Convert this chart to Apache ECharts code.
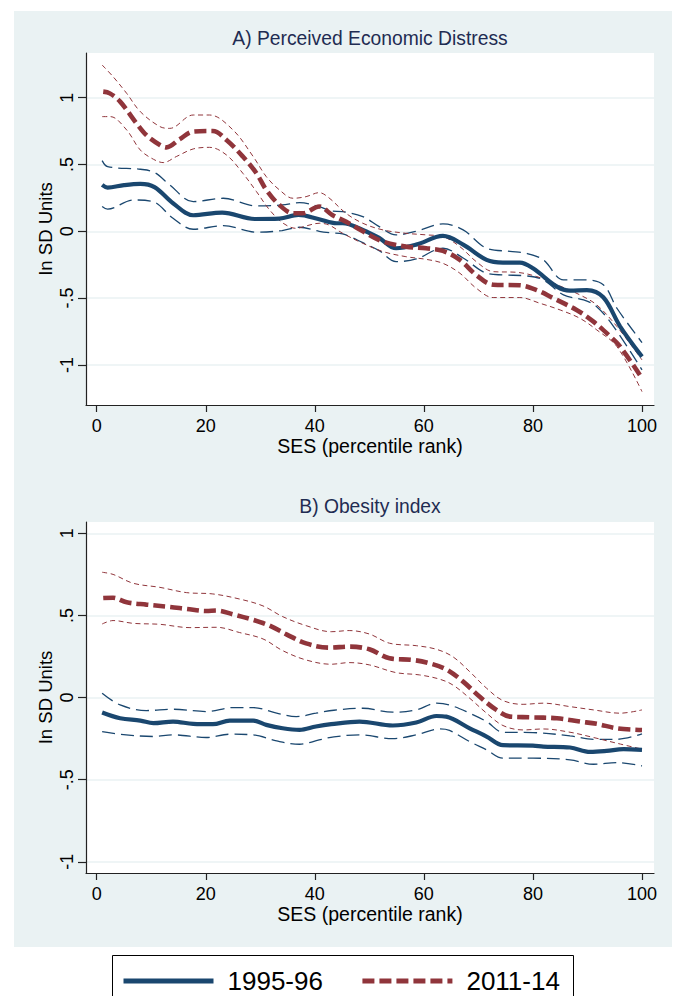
<!DOCTYPE html>
<html>
<head>
<meta charset="utf-8">
<script src="https://cdn.jsdelivr.net/npm/echarts@6/dist/echarts.min.js"></script>
<style>
html,body{margin:0;padding:0;background:#fff;}
#c{width:678px;height:996px;}
</style>
</head>
<body>
<div id="c"></div>
<script>
// ---- Data (x = SES percentile rank, y = SD units) ----
const xTicks = [0, 20, 40, 60, 80, 100];
const yTicks = [-1, -0.5, 0, 0.5, 1];
const legendNames = ['1995-96', '2011-14'];

// Panel A: Perceived Economic Distress
const distress9596 = [[1,0.347],[2,0.327],[5,0.345],[8,0.354],[10.6,0.33],[14,0.21],[17.7,0.12],[23,0.14],[29,0.092],[33.5,0.095],[37,0.122],[40.8,0.09],[44,0.06],[45.1,0.06],[48.8,0.01],[51.8,-0.05],[54.9,-0.127],[58.6,-0.10],[63.5,-0.035],[67.2,-0.10],[71.5,-0.214],[74.5,-0.234],[77.6,-0.234],[80,-0.277],[84.4,-0.414],[86.8,-0.444],[89.9,-0.44],[92.9,-0.494],[96,-0.713],[100,-0.938]];
const distress9596Hi = [[1,0.529],[2,0.484],[8,0.464],[10.6,0.44],[13.4,0.347],[17.7,0.222],[23.2,0.247],[29.3,0.19],[34,0.197],[37.2,0.214],[40.8,0.185],[43,0.152],[45.1,0.147],[48.8,0.11],[51.8,0.035],[54.9,-0.027],[58.6,0],[63.5,0.055],[67.2,0.01],[71.5,-0.127],[75.8,-0.15],[78.8,-0.165],[81.9,-0.214],[85.6,-0.364],[89.3,-0.364],[92.9,-0.40],[95.4,-0.576],[100,-0.833]];
const distress9596Lo = [[1,0.185],[2,0.165],[6.7,0.234],[10.3,0.222],[14,0.097],[17.7,0.015],[23.2,0.042],[29.3,-0.007],[34,0.005],[37.2,0.03],[40.8,0.0],[43,-0.012],[45.1,-0.02],[48.8,-0.085],[51.8,-0.145],[54.9,-0.227],[58.6,-0.207],[63.5,-0.127],[67.2,-0.2],[71.5,-0.314],[74.5,-0.327],[78.8,-0.334],[81.9,-0.364],[85.6,-0.476],[89.3,-0.514],[91.7,-0.564],[94.8,-0.713],[100,-1.037]];
const distress1114 = [[1.2,1.045],[2.4,1.032],[4.3,0.97],[7.3,0.808],[9.1,0.72],[11.6,0.646],[12.8,0.628],[15.2,0.688],[17.7,0.746],[21.3,0.75],[23.8,0.683],[26.8,0.559],[29.3,0.434],[31.1,0.31],[33.5,0.197],[36,0.135],[37.8,0.135],[40.8,0.185],[43.2,0.122],[45.7,0.072],[48.8,0],[52.5,-0.077],[56.7,-0.115],[60.4,-0.127],[63.5,-0.147],[66.6,-0.214],[69.6,-0.327],[72.7,-0.40],[77.6,-0.404],[80.7,-0.44],[83.7,-0.50],[88,-0.589],[91.1,-0.676],[94.2,-0.788],[96,-0.863],[100,-1.1]];
const distress1114Hi = [[1,1.244],[3,1.157],[5.5,1.032],[8,0.895],[11.6,0.783],[13.4,0.77],[17.7,0.87],[20.7,0.87],[25,0.758],[28.7,0.559],[31.1,0.409],[33.5,0.31],[36,0.247],[38.4,0.259],[40.8,0.289],[42.6,0.25],[45.7,0.135],[48.8,0.06],[52.5,0.01],[56.7,-0.015],[60.4,-0.027],[63.5,-0.04],[66.6,-0.115],[69.6,-0.227],[72.7,-0.302],[77,-0.307],[80.7,-0.339],[84.4,-0.40],[88.6,-0.476],[91.7,-0.551],[95.4,-0.713],[100,-0.963]];
const distress1114Lo = [[1,0.858],[2.5,0.858],[5.5,0.758],[8,0.608],[10.4,0.539],[12.2,0.514],[14.6,0.559],[17.7,0.616],[20.7,0.628],[23.8,0.571],[26.8,0.434],[29.3,0.297],[31.7,0.16],[34.2,0.06],[36.6,0.022],[38.4,0.04],[40.8,0.06],[42.6,0.047],[45.1,-0.015],[48.8,-0.09],[52.5,-0.152],[56.7,-0.19],[60.4,-0.21],[63.5,-0.24],[66.6,-0.314],[69.6,-0.426],[72.7,-0.496],[77.6,-0.496],[81.3,-0.539],[85,-0.589],[88.6,-0.651],[91.7,-0.738],[95.4,-0.863],[100,-1.2]];

// Panel B: Obesity index
const obesity9596 = [[1,-0.091],[4.3,-0.126],[8,-0.14],[10.4,-0.156],[14,-0.146],[17.7,-0.16],[21.3,-0.162],[24.4,-0.14],[28.7,-0.14],[31.1,-0.166],[34.1,-0.187],[37.2,-0.197],[40.2,-0.176],[43,-0.162],[48.2,-0.146],[54.3,-0.17],[58.6,-0.152],[62.3,-0.112],[64.1,-0.116],[68.4,-0.187],[71.5,-0.237],[74.5,-0.29],[80,-0.292],[81.9,-0.298],[86.8,-0.304],[90.5,-0.331],[93.5,-0.325],[96.6,-0.314],[100,-0.318]];
const obesity9596Hi = [[1,0.026],[4.3,-0.045],[9.1,-0.079],[14,-0.071],[20.1,-0.085],[25,-0.061],[28.7,-0.061],[33,-0.095],[36.6,-0.116],[40.2,-0.095],[43.5,-0.077],[48.8,-0.065],[54.3,-0.089],[58.6,-0.075],[62.3,-0.034],[64.7,-0.045],[68.4,-0.095],[71.5,-0.146],[74.5,-0.211],[80,-0.213],[86.8,-0.233],[91.1,-0.254],[95.4,-0.254],[100,-0.221]];
const obesity9596Lo = [[1,-0.207],[4.3,-0.223],[10.4,-0.237],[14,-0.227],[20.1,-0.243],[24.4,-0.223],[28.7,-0.227],[33,-0.264],[37.2,-0.284],[40.8,-0.258],[43.5,-0.239],[48.2,-0.227],[54.3,-0.25],[58.6,-0.227],[62.9,-0.191],[64.7,-0.2],[68.4,-0.268],[71.5,-0.318],[74.5,-0.369],[80,-0.369],[86.8,-0.379],[91.1,-0.406],[95.4,-0.396],[100,-0.416]];
const obesity1114 = [[1.2,0.606],[3,0.608],[5.5,0.58],[9.1,0.566],[13.4,0.552],[16.5,0.54],[20.1,0.527],[22,0.53],[25,0.507],[28.7,0.473],[31.7,0.438],[34.8,0.385],[38.4,0.33],[42.7,0.304],[46.3,0.31],[50,0.294],[53.7,0.239],[58,0.229],[61,0.209],[64.1,0.172],[67.2,0.097],[70.2,0.006],[73.3,-0.075],[75.8,-0.116],[79.4,-0.12],[84.4,-0.126],[88.6,-0.146],[91.7,-0.16],[95.4,-0.187],[100,-0.197]];
const obesity1114Hi = [[1,0.763],[3,0.75],[6.7,0.696],[11.6,0.671],[16.5,0.639],[21.3,0.631],[26.2,0.6],[30.5,0.558],[34.1,0.493],[38.4,0.438],[43,0.401],[46.3,0.408],[50,0.387],[53.7,0.331],[58.6,0.316],[62.3,0.294],[65.3,0.249],[68.4,0.158],[71.5,0.057],[74.5,-0.018],[78.2,-0.041],[81.9,-0.034],[86.8,-0.055],[91.1,-0.075],[96,-0.095],[100,-0.075]];
const obesity1114Lo = [[1,0.448],[3,0.469],[6.7,0.452],[11.6,0.446],[17.1,0.426],[22,0.428],[26.2,0.396],[30.5,0.357],[34.1,0.286],[38.4,0.229],[43,0.203],[46.3,0.213],[50,0.199],[54.9,0.152],[59.2,0.138],[62.9,0.112],[65.3,0.077],[68.4,-0.004],[71.5,-0.095],[74.5,-0.17],[78.2,-0.197],[81.9,-0.191],[86.8,-0.211],[91.1,-0.243],[95.4,-0.278],[100,-0.314]];

// ---- Styles ----
const NAVY = '#1a476f';
const MAROON = '#90353b';
const BG = '#eaf2f3';
const FONT = 'Liberation Sans, Arial, Helvetica, sans-serif';

function yFmt(v) {
  if (Math.abs(v) < 1e-9) return '0';
  return String(v).replace('0.', '.');
}

function makeX(gi) {
  return {
    type: 'value', gridIndex: gi, min: -1.96, max: 102.2,
    name: 'SES (percentile rank)', nameLocation: 'middle', nameGap: 31, nameMoveOverlap: false,
    nameTextStyle: { fontSize: 19.5, lineHeight: 20, color: '#000', fontFamily: FONT },
    axisLine: { show: true, onZero: false, lineStyle: { color: '#222', width: 1.2 } },
    axisTick: { show: true, length: 7, customValues: xTicks, lineStyle: { color: '#222', width: 1.2 } },
    axisLabel: { customValues: xTicks, margin: 12, fontSize: 18, lineHeight: 18, color: '#000', fontFamily: FONT },
    splitLine: { show: false }
  };
}
function makeY(gi, min, max) {
  return {
    type: 'value', gridIndex: gi, min: min, max: max,
    name: 'In SD Units', nameLocation: 'middle', nameGap: 31, nameRotate: 90, nameMoveOverlap: false,
    nameTextStyle: { fontSize: 18.5, lineHeight: 19, color: '#000', fontFamily: FONT },
    axisLine: { show: true, onZero: false, lineStyle: { color: '#222', width: 1.2 } },
    axisTick: { show: true, length: 8, customValues: yTicks, lineStyle: { color: '#222', width: 1.2 } },
    axisLabel: { customValues: yTicks, rotate: 90, margin: 10, fontSize: 18, lineHeight: 18, color: '#000', fontFamily: FONT, formatter: yFmt },
    splitLine: { show: true, lineStyle: { color: BG, width: 1.6 } }
  };
}
function mainLine(name, data, gi, color, dashed) {
  return {
    type: 'line', name: name, data: data, xAxisIndex: gi, yAxisIndex: gi,
    smooth: 0.35, symbol: 'none', showSymbol: false, silent: true, z: 4,
    itemStyle: { color: color },
    lineStyle: { color: color, width: dashed ? 4.6 : 4.2, type: dashed ? [12, 5] : 'solid', cap: 'butt' }
  };
}
function ciLine(name, data, gi, color, dash, width) {
  return {
    type: 'line', name: name, data: data, xAxisIndex: gi, yAxisIndex: gi,
    smooth: 0.35, symbol: 'none', showSymbol: false, silent: true, z: 3,
    itemStyle: { color: color },
    lineStyle: { color: color, width: width, type: dash }
  };
}

const chart = echarts.init(document.getElementById('c'), null, { renderer: 'svg', width: 678, height: 996 });

const legendItem = (name) => ({ name: name, lineStyle: { width: 5 }, itemStyle: { opacity: 0, borderWidth: 0 } });

const option = {
  animation: false,
  backgroundColor: '#fff',
  graphic: [
    { type: 'rect', z: -10, silent: true, shape: { x: 14, y: 11, width: 658, height: 936 }, style: { fill: BG } },
    { type: 'rect', z: -10, silent: true, shape: { x: 112.5, y: 955.5, width: 461, height: 60 }, style: { fill: '#fff', stroke: '#000', lineWidth: 1 } }
  ],
  title: [
    { text: 'A) Perceived Economic Distress', left: 370, top: 29, textAlign: 'center', padding: 0,
      textStyle: { fontSize: 19.3, fontWeight: 'normal', color: '#1f2c52', fontFamily: FONT } },
    { text: 'B) Obesity index', left: 370, top: 497, textAlign: 'center', padding: 0,
      textStyle: { fontSize: 19.3, fontWeight: 'normal', color: '#1f2c52', fontFamily: FONT } }
  ],
  legend: {
    data: [legendItem(legendNames[0]), legendItem(legendNames[1])],
    left: 121, top: 968, padding: 0, itemWidth: 90, itemHeight: 10, itemGap: 37,
    selectedMode: false,
    textStyle: { fontSize: 26, color: '#000', fontFamily: FONT, padding: [0, 0, 0, 9] }
  },
  grid: [
    { left: 86, right: 24, top: 53, height: 352, show: true, backgroundColor: '#fff', borderWidth: 0 },
    { left: 86, right: 24, top: 522, height: 351, show: true, backgroundColor: '#fff', borderWidth: 0 }
  ],
  xAxis: [makeX(0), makeX(1)],
  yAxis: [makeY(0, -1.30, 1.334), makeY(1, -1.068, 1.069)],
  series: [
    ciLine('A 1995-96 upper', distress9596Hi, 0, NAVY, [13, 6], 1.3),
    ciLine('A 1995-96 lower', distress9596Lo, 0, NAVY, [13, 6], 1.3),
    mainLine(legendNames[0], distress9596, 0, NAVY, false),
    ciLine('A 2011-14 upper', distress1114Hi, 0, MAROON, [5, 3.5], 1),
    ciLine('A 2011-14 lower', distress1114Lo, 0, MAROON, [5, 3.5], 1),
    mainLine(legendNames[1], distress1114, 0, MAROON, true),
    ciLine('B 1995-96 upper', obesity9596Hi, 1, NAVY, [13, 6], 1.3),
    ciLine('B 1995-96 lower', obesity9596Lo, 1, NAVY, [13, 6], 1.3),
    mainLine(legendNames[0], obesity9596, 1, NAVY, false),
    ciLine('B 2011-14 upper', obesity1114Hi, 1, MAROON, [5, 3.5], 1),
    ciLine('B 2011-14 lower', obesity1114Lo, 1, MAROON, [5, 3.5], 1),
    mainLine(legendNames[1], obesity1114, 1, MAROON, true)
  ]
};
chart.setOption(option);
</script>
</body>
</html>
